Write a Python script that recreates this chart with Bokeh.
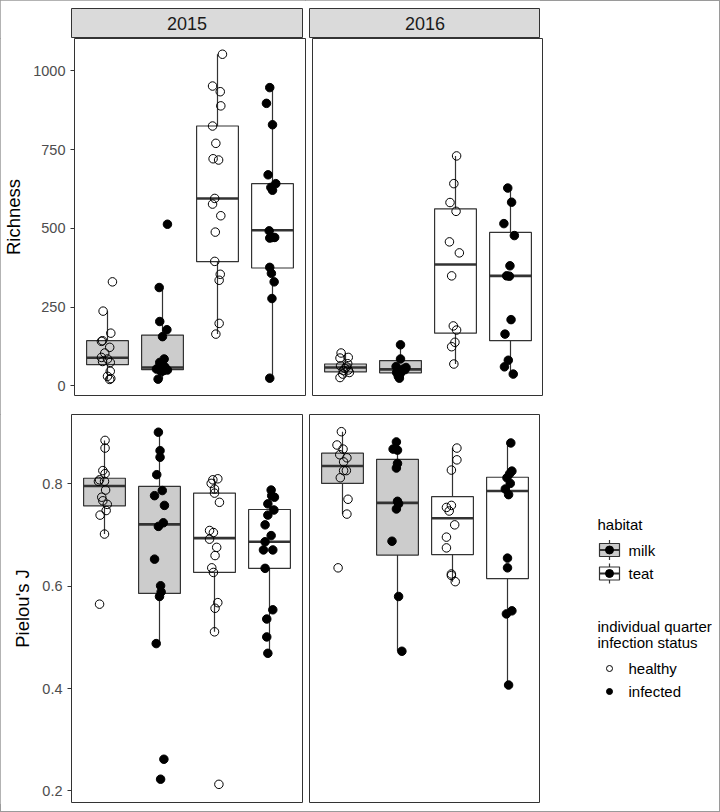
from bokeh.plotting import figure
from bokeh.layouts import row, column
from bokeh.models import Range1d, FixedTicker, Label, InlineStyleSheet
from bokeh.core.properties import value
from bokeh.embed import file_html
from bokeh.resources import INLINE

FONT = "Liberation Sans"

# ---------------- data ----------------
GROUPS = ["milk healthy", "milk infected", "teat healthy", "teat infected"]
HABITAT = ["milk", "milk", "teat", "teat"]
STATUS = ["healthy", "infected", "healthy", "infected"]
YEARS = ["2015", "2016"]
LEGEND_HABITAT = ["milk", "teat"]
LEGEND_STATUS = ["healthy", "infected"]

RICH_TICKS = [0, 250, 500, 750, 1000]
PIELOU_TICKS = [0.2, 0.4, 0.6, 0.8]

# Richness 2015 (per group) and horizontal jitter
RICH_2015 = [
    [330, 237, 167, 143, 141, 122, 104, 90, 85, 77, 74, 46, 30, 23, 20],
    [513, 312, 204, 178, 156, 85, 74, 60, 55, 53, 53, 50, 48, 48, 45, 21],
    [1053, 952, 934, 889, 825, 770, 721, 717, 595, 577, 540, 488, 395, 354, 335, 198, 164],
    [947, 897, 829, 670, 642, 630, 621, 492, 471, 469, 471, 376, 357, 330, 277, 24],
]
RICH_2015_JIT = [
    [0.09, -0.08, 0.06, -0.09, -0.11, 0.04, -0.05, -0.11, 0.0, -0.09, 0.05, 0.05, 0.0, 0.06, 0.04],
    [0.09, -0.06, -0.05, 0.08, 0.0, 0.03, -0.05, 0.04, -0.08, -0.11, 0.06, 0.09, -0.03, 0.02, -0.02, -0.08],
    [0.09, -0.09, 0.05, 0.06, -0.09, -0.03, -0.08, 0.02, -0.05, -0.09, 0.06, -0.04, -0.05, 0.05, 0.03, 0.03, -0.03],
    [-0.05, -0.11, 0.0, -0.08, 0.06, -0.03, 0.0, -0.06, 0.0, -0.05, 0.04, -0.05, -0.02, 0.03, -0.01, -0.05],
]
RICH_2016 = [
    [104, 90, 88, 70, 63, 60, 55, 50, 48, 42, 37, 26],
    [130, 85, 61, 58, 53, 51, 45, 42, 37, 30, 24],
    [730, 642, 582, 554, 457, 422, 349, 190, 177, 138, 124, 69],
    [628, 583, 515, 477, 381, 349, 348, 210, 164, 81, 60, 37],
]
RICH_2016_JIT = [
    [-0.08, 0.05, -0.10, 0.04, -0.09, 0.02, -0.01, 0.05, -0.04, 0.07, -0.05, -0.10],
    [0.0, 0.0, -0.08, 0.10, 0.05, 0.08, 0.02, -0.07, -0.01, -0.04, -0.02],
    [0.02, -0.03, -0.10, 0.01, -0.11, 0.07, -0.07, -0.04, 0.02, -0.01, -0.07, -0.03],
    [-0.05, 0.02, -0.12, 0.07, -0.01, -0.07, -0.02, 0.01, -0.10, -0.04, -0.11, 0.05],
]
PIELOU_2015 = [
    [0.885, 0.870, 0.826, 0.820, 0.808, 0.805, 0.805, 0.788, 0.774, 0.767, 0.760, 0.748, 0.739, 0.702, 0.565],
    [0.901, 0.865, 0.852, 0.818, 0.787, 0.777, 0.758, 0.724, 0.717, 0.653, 0.601, 0.589, 0.580, 0.488, 0.262, 0.223],
    [0.810, 0.808, 0.801, 0.790, 0.782, 0.764, 0.709, 0.705, 0.692, 0.676, 0.660, 0.636, 0.627, 0.568, 0.557, 0.511, 0.213],
    [0.788, 0.774, 0.777, 0.761, 0.749, 0.739, 0.720, 0.699, 0.687, 0.671, 0.671, 0.635, 0.554, 0.536, 0.501, 0.469],
]
PIELOU_2015_JIT = [
    [0.01, 0.01, -0.03, 0.01, -0.09, -0.11, 0.0, 0.02, -0.05, -0.03, 0.05, 0.03, -0.08, 0.0, -0.09],
    [-0.02, 0.01, 0.01, -0.05, 0.05, -0.09, 0.09, 0.07, -0.02, -0.09, 0.02, 0.03, 0.0, -0.06, 0.08, 0.02],
    [0.06, -0.03, -0.06, 0.0, 0.0, 0.09, -0.09, -0.02, -0.09, 0.04, 0.01, -0.05, -0.02, 0.06, 0.01, 0.0, 0.08],
    [0.03, 0.09, 0.04, -0.03, 0.08, -0.03, -0.08, 0.03, -0.08, -0.11, 0.06, -0.08, 0.06, -0.05, -0.05, -0.03],
]
PIELOU_2016 = [
    [0.902, 0.876, 0.868, 0.857, 0.851, 0.843, 0.826, 0.826, 0.812, 0.770, 0.741, 0.636],
    [0.882, 0.868, 0.866, 0.840, 0.831, 0.766, 0.761, 0.751, 0.688, 0.580, 0.473],
    [0.870, 0.847, 0.827, 0.758, 0.754, 0.747, 0.720, 0.696, 0.675, 0.624, 0.621, 0.609],
    [0.880, 0.825, 0.820, 0.812, 0.801, 0.790, 0.779, 0.655, 0.636, 0.552, 0.546, 0.407],
]
PIELOU_2016_JIT = [
    [-0.02, -0.10, 0.01, -0.05, 0.08, 0.02, 0.07, 0.02, -0.04, 0.10, 0.08, -0.08],
    [-0.02, -0.08, 0.0, 0.0, -0.02, 0.0, 0.02, -0.02, -0.10, 0.02, 0.08],
    [0.08, 0.08, -0.02, -0.02, -0.11, -0.06, 0.04, -0.11, -0.11, -0.02, -0.02, 0.05],
    [0.06, 0.08, 0.04, -0.01, 0.05, -0.04, 0.02, 0.0, 0.0, 0.08, -0.02, 0.02],
]

# box statistics: lower whisker, Q1, median, Q3, upper whisker
RICH_2015_LOWER = [20, 21, 164, 24]
RICH_2015_Q1 = [67, 51, 394, 374]
RICH_2015_MED = [89, 58, 595, 494]
RICH_2015_Q3 = [143, 161, 825, 642]
RICH_2015_UPPER = [237, 312, 1053, 947]

RICH_2016_LOWER = [26, 24, 69, 37]
RICH_2016_Q1 = [44, 41, 167, 143]
RICH_2016_MED = [58, 52, 385, 349]
RICH_2016_Q3 = [69, 80, 562, 487]
RICH_2016_UPPER = [104, 130, 730, 628]

PIELOU_2015_LOWER = [0.702, 0.488, 0.511, 0.469]
PIELOU_2015_Q1 = [0.757, 0.586, 0.627, 0.635]
PIELOU_2015_MED = [0.796, 0.721, 0.694, 0.687]
PIELOU_2015_Q3 = [0.811, 0.795, 0.782, 0.750]
PIELOU_2015_UPPER = [0.885, 0.901, 0.810, 0.788]

PIELOU_2016_LOWER = [0.741, 0.473, 0.609, 0.407]
PIELOU_2016_Q1 = [0.801, 0.661, 0.662, 0.615]
PIELOU_2016_MED = [0.835, 0.763, 0.733, 0.786]
PIELOU_2016_Q3 = [0.860, 0.848, 0.775, 0.813]
PIELOU_2016_UPPER = [0.902, 0.882, 0.870, 0.880]

# ---------------- style ----------------
BOX_W = 0.76
LINE_C = "#333333"
MILK_FILL = "#CCCCCC"
FRAME_W = 231
LEFT_BORDER = 71


def make_panel(vals, jits, lo, q1, med, q3, hi, yr, ticks, ylabel, is_left, fh, mbb):
    kw = dict(frame_width=FRAME_W, frame_height=fh,
              x_range=Range1d(0.4, 4.6), y_range=Range1d(*yr),
              output_backend="svg", toolbar_location=None,
              x_axis_location=None, min_border_top=0, min_border_bottom=mbb,
              background_fill_color="white", border_fill_color="white",
              outline_line_color=LINE_C, outline_line_width=1)
    if is_left:
        kw.update(min_border_left=LEFT_BORDER, min_border_right=3)
    else:
        kw.update(y_axis_location=None, min_border_left=4, min_border_right=0)
    p = figure(**kw)
    p.grid.visible = False
    pos = [i + 1 for i in range(len(GROUPS))]
    fills = [MILK_FILL if h == "milk" else "white" for h in HABITAT]
    p.segment(x0=pos, x1=pos, y0=q3, y1=hi, line_color=LINE_C, line_width=1.2)
    p.segment(x0=pos, x1=pos, y0=lo, y1=q1, line_color=LINE_C, line_width=1.2)
    p.vbar(x=pos, width=BOX_W, bottom=q1, top=q3, fill_color=fills,
           line_color=LINE_C, line_width=1.2)
    p.segment(x0=[x - BOX_W / 2 for x in pos], x1=[x + BOX_W / 2 for x in pos],
              y0=med, y1=med, line_color=LINE_C, line_width=2.6)
    for g in range(len(GROUPS)):
        xs = [pos[g] + j for j in jits[g]]
        if STATUS[g] == "infected":
            p.scatter(xs, vals[g], marker="circle", size=8.5, fill_color="black",
                      line_color="black", line_width=1)
        else:
            p.scatter(xs, vals[g], marker="circle", size=8.5, fill_color=None,
                      line_color="black", line_width=1)
    if is_left:
        ax = p.yaxis[0]
        ax.ticker = FixedTicker(ticks=ticks)
        ax.axis_line_color = None
        ax.major_tick_line_color = LINE_C
        ax.major_tick_out = 4
        ax.major_tick_in = 0
        ax.minor_tick_out = 0
        ax.minor_tick_in = 0
        ax.major_label_standoff = 5
        ax.major_label_text_font = FONT
        ax.major_label_text_font_size = "14.5px"
        ax.major_label_text_color = "#4D4D4D"
        ax.axis_label = ylabel
        ax.axis_label_text_font = FONT
        ax.axis_label_text_font_size = "18.5px"
        ax.axis_label_text_font_style = "normal"
        ax.axis_label_text_color = "black"
        ax.axis_label_standoff = 6
    return p


def make_strip(text, is_left):
    p = figure(frame_width=FRAME_W, frame_height=30,
               x_range=Range1d(0, 1), y_range=Range1d(0, 1),
               x_axis_location=None, y_axis_location=None,
               min_border_top=8, min_border_bottom=0,
               min_border_left=LEFT_BORDER if is_left else 4,
               min_border_right=3 if is_left else 0,
               background_fill_color="#DADADA", border_fill_color="white",
               outline_line_color=LINE_C, outline_line_width=1,
               toolbar_location=None, output_backend="svg")
    p.grid.visible = False
    p.add_layout(Label(x=0.5, y=0.5, text=text, text_align="center",
                       text_baseline="middle", text_font=FONT,
                       text_font_size="18px", text_color="#1A1A1A"))
    return p


RICH_YR = (-31, 1103)
PIELOU_YR = (0.1775, 0.9356)

s15 = make_strip(YEARS[0], True)
s16 = make_strip(YEARS[1], False)
r15 = make_panel(RICH_2015, RICH_2015_JIT, RICH_2015_LOWER, RICH_2015_Q1, RICH_2015_MED,
                 RICH_2015_Q3, RICH_2015_UPPER, RICH_YR, RICH_TICKS, "Richness", True, 357, 19)
r16 = make_panel(RICH_2016, RICH_2016_JIT, RICH_2016_LOWER, RICH_2016_Q1, RICH_2016_MED,
                 RICH_2016_Q3, RICH_2016_UPPER, RICH_YR, RICH_TICKS, "Richness", False, 357, 19)
j15 = make_panel(PIELOU_2015, PIELOU_2015_JIT, PIELOU_2015_LOWER, PIELOU_2015_Q1, PIELOU_2015_MED,
                 PIELOU_2015_Q3, PIELOU_2015_UPPER, PIELOU_YR, PIELOU_TICKS, "Pielou's J", True, 388, 2)
j16 = make_panel(PIELOU_2016, PIELOU_2016_JIT, PIELOU_2016_LOWER, PIELOU_2016_Q1, PIELOU_2016_MED,
                 PIELOU_2016_Q3, PIELOU_2016_UPPER, PIELOU_YR, PIELOU_TICKS, "Pielou's J", False, 388, 2)

# ---------------- legend (pixel-like coordinates inside its own figure) ----------------
LW, LH = 172, 390
leg = figure(frame_width=LW, frame_height=LH, x_range=Range1d(0, LW), y_range=Range1d(LH, 0),
             x_axis_location=None, y_axis_location=None, min_border=0,
             outline_line_color=None, background_fill_color="white",
             border_fill_color="white", toolbar_location=None, output_backend="svg")
leg.grid.visible = False
KEY_X = 69
LAB_X = 88
TITLE_X = 57
hab_y = [135.5, 159]
stat_y = [254, 277]
txt = dict(text_baseline="middle", text_align="left", text_font=value(FONT),
           text_font_size="15px", text_color="black")
leg.text(x=[TITLE_X], y=[110], text=["habitat"], **txt)
leg.segment(x0=[KEY_X] * 2, x1=[KEY_X] * 2, y0=[y - 10 for y in hab_y], y1=[y + 10 for y in hab_y],
            line_color=LINE_C, line_width=1.2)
leg.rect(x=[KEY_X] * 2, y=hab_y, width=20, height=13,
         fill_color=[MILK_FILL if h == "milk" else "white" for h in LEGEND_HABITAT],
         line_color=LINE_C, line_width=1.2)
leg.segment(x0=[KEY_X - 10] * 2, x1=[KEY_X + 10] * 2, y0=hab_y, y1=hab_y,
            line_color=LINE_C, line_width=2.2)
leg.scatter(x=[KEY_X] * 2, y=hab_y, marker="circle", size=8, fill_color="black", line_color="black")
leg.text(x=[LAB_X] * 2, y=hab_y, text=LEGEND_HABITAT, **txt)

leg.text(x=[TITLE_X, TITLE_X], y=[211.5, 227.5],
         text=["individual quarter", "infection status"], **txt)
leg.scatter(x=[KEY_X], y=[stat_y[0]], marker="circle", size=6, fill_color=None, line_color="black")
leg.scatter(x=[KEY_X], y=[stat_y[1]], marker="circle", size=6, fill_color="black", line_color="black")
leg.text(x=[LAB_X] * 2, y=stat_y, text=LEGEND_STATUS, **txt)

frame_css = InlineStyleSheet(css=":host { outline: 1px solid #9a9a9a; outline-offset: -1px; }")
layout = column(row(s15, s16), row(r15, r16), row(j15, j16, leg),
                width=720, height=812, stylesheets=[frame_css])

with open("out.html", "w") as f:
    f.write(file_html(layout, INLINE))
